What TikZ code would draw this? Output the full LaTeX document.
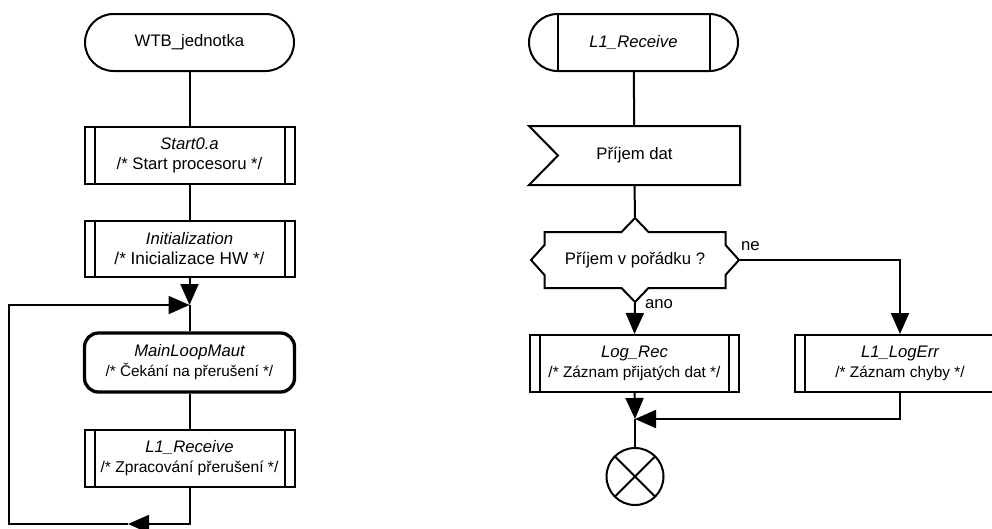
\documentclass[tikz,border=0pt]{standalone}
\usepackage{fontspec}
\setmainfont{Liberation Sans}
\usetikzlibrary{arrows.meta}

% comment line of a block, optionally set a little smaller so it fits between the bars
\newcommand\cmtline[2][16.7]{{\fontsize{#1}{20}\selectfont #2}}

\begin{document}
\begin{tikzpicture}[x=1pt,y=-1pt,
  every node/.style={font=\fontsize{16.7}{20}\selectfont, align=center, inner sep=0pt},
  every path/.style={line width=2pt},
  term/.style={draw, rectangle, minimum width=209pt, minimum height=57pt, rounded corners=28.5pt},
  termbars/.style={term, path picture={
      \draw ([xshift=28.5pt]path picture bounding box.north west) -- ([xshift=28.5pt]path picture bounding box.south west)
            ([xshift=-28.5pt]path picture bounding box.north east) -- ([xshift=-28.5pt]path picture bounding box.south east);}},
  subproc/.style={draw, rectangle, minimum width=210pt, minimum height=57pt, path picture={
      \draw ([xshift=10pt]path picture bounding box.north west) -- ([xshift=10pt]path picture bounding box.south west)
            ([xshift=-10pt]path picture bounding box.north east) -- ([xshift=-10pt]path picture bounding box.south east);}},
  waitbox/.style={draw, rectangle, line width=3.3pt, minimum width=210pt, minimum height=59pt, rounded corners=14pt},
  plain/.style={rectangle, minimum width=209pt, minimum height=57pt},
  endmark/.style={draw, circle, minimum size=57pt, path picture={
      \draw (path picture bounding box.north west) -- (path picture bounding box.south east)
            (path picture bounding box.north east) -- (path picture bounding box.south west);}},
  flow/.style={-{Triangle[length=21pt,width=18pt]}},
  lbl/.style={anchor=base west}
]
\useasboundingbox (0,0) rectangle (992,528);

% ---- main program loop ----
\node[term] (start) at (189.5,42.5) {WTB\_jednotka};
\node[subproc] (s0) at (189.5,155.5) {\itshape Start0.a\\\cmtline{/* Start procesoru */}};
\node[subproc, minimum height=56pt] (init) at (189.5,249) {\itshape Initialization\\\cmtline[17.2]{/* Inicializace HW */}};
\coordinate (j1) at (189.5,305);
\node[waitbox] (wait) at (189.5,362.5) {\itshape MainLoopMaut\\\cmtline[15.3]{/* Čekání na přerušení */}};
\node[subproc] (recv) at (189.5,458.5) {\itshape L1\_Receive\\\cmtline[15.6]{/* Zpracování přerušení */}};
\coordinate (bm) at (128,524);
\coordinate (tl) at (9,305);

\draw (start) -- (s0);
\draw (s0) -- (init);
\draw[flow] (init.south) -- (j1);
\draw (j1) -- (wait.north);
\draw (wait) -- (recv);
\draw[flow] (recv.south) |- (bm);
\draw[flow] (bm) -| (tl) -- (j1);

% ---- receive routine ----
\node[termbars] (rstart) at (633.5,42.5) {\itshape L1\_Receive};
\node[plain] (rx) at (634.5,155.5) {Příjem dat};
\draw (rx.north west) -- (rx.north east) -- (rx.south east) -- (rx.south west)
      -- ([xshift=29pt]rx.west) -- cycle;

\node[rectangle, minimum width=208pt, minimum height=84pt] (dec) at (635,260) {Příjem v pořádku ?};
\draw[shift={(dec.center)}] (-90.5,-28) -- (-13.5,-28) -- (0,-42) -- (13.5,-28) -- (90.5,-28)
      -- (90.5,-15) -- (104,0) -- (90.5,15) -- (90.5,28) -- (13.5,28) -- (0,42) -- (-13.5,28)
      -- (-90.5,28) -- (-90.5,15) -- (-104,0) -- (-90.5,-15) -- cycle;

\node[subproc, minimum width=209pt] (logrec) at (634.5,363.5) {\itshape Log\_Rec\\\cmtline[15.4]{/* Záznam přijatých dat */}};
\node[subproc] (logerr) at (900,363.5) {\itshape L1\_LogErr\\\cmtline[15.4]{/* Záznam chyby */}};
\coordinate (j2) at (635,419);
\node[endmark] (stop) at (635,476.5) {};

\draw (rstart) -- (rx);
\draw (rx.south) -- (dec.north);
\draw[flow] (dec.south) -- (logrec.north);
\draw[flow] (dec.east) -| (logerr.north);
\node[lbl] (ano) at (644,308) {ano};
\node[lbl] (ne) at (740,250) {ne};
\draw[flow] (logrec.south) -- (j2);
\draw[flow] (logerr.south) |- (j2);
\draw (j2) -- (stop.north);
\end{tikzpicture}
\end{document}
